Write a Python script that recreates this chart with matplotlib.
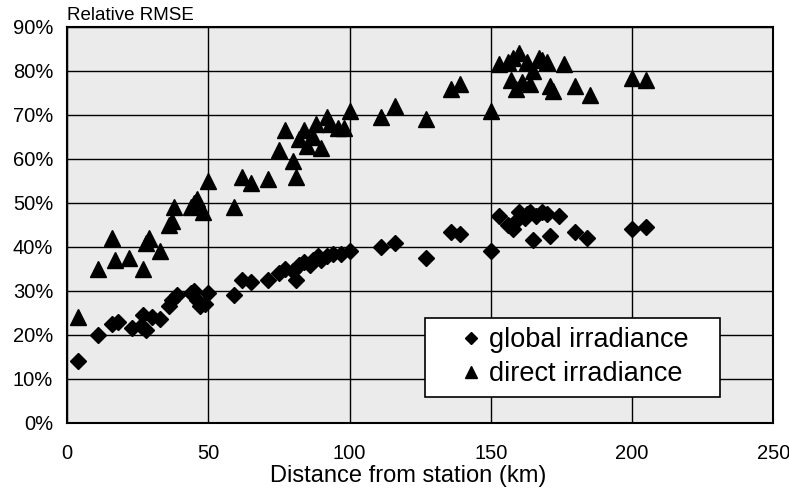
import matplotlib.pyplot as plt
from matplotlib.ticker import FuncFormatter

plt.rcParams['font.family'] = ['Liberation Sans', 'DejaVu Sans']

# global irradiance (diamonds): distance (km), relative RMSE (%)
global_km = [4, 11, 16, 18, 23, 26, 27, 28, 30, 33, 36, 37, 39, 44, 45, 46, 47, 49, 50,
             59, 62, 65, 71, 75, 77, 80, 81, 82, 84, 86, 87, 89, 90, 92, 94, 97, 100,
             111, 116, 127, 136, 139, 150, 153, 156, 158, 159, 160, 162, 163, 164, 165,
             166, 168, 170, 171, 174, 180, 184, 200, 205]
global_rmse = [14, 20, 22.5, 23, 21.5, 22, 24.5, 21, 24, 23.5, 26.5, 28, 29, 29.5, 30, 28, 26.5, 27, 29.5,
               29, 32.5, 32, 32.5, 34, 35, 34.5, 32.5, 36, 36.5, 36, 37, 38, 37, 38, 38.5, 38.5, 39,
               40, 41, 37.5, 43.5, 43, 39, 47, 45, 44, 46, 48, 46.5, 47.5, 48, 41.5,
               47, 48, 47.5, 42.5, 47, 43.5, 42, 44, 44.5]

# direct irradiance (triangles)
direct_km = [4, 11, 16, 17, 22, 27, 28, 29, 33, 36, 37, 38, 44, 45, 46, 48, 50,
             59, 62, 65, 71, 75, 77, 80, 81, 82, 84, 85, 87, 88, 90, 92, 93, 96, 98, 100,
             111, 116, 127, 136, 139, 150, 153, 156, 157, 158, 159, 160, 161, 163, 164,
             165, 167, 168, 170, 171, 172, 176, 180, 185, 200, 205]
direct_rmse = [24, 35, 42, 37, 37.5, 35, 41, 42, 39, 45, 46, 49, 49, 50, 51, 48, 55,
               49, 56, 54.5, 55.5, 62, 66.5, 59.5, 56, 64.5, 66.5, 63, 65, 68, 62.5, 69.5, 68, 67, 67, 71,
               69.5, 72, 69, 76, 77, 71, 81.5, 82, 78, 83, 76, 84, 77.5, 82, 77,
               80, 83, 82.5, 82, 76.5, 75.5, 81.5, 76.5, 74.5, 78.5, 78]

fig = plt.figure(figsize=(7.89, 4.90), dpi=100)
ax = fig.add_axes([0.085, 0.137, 0.895, 0.808])
ax.set_facecolor('#ebebeb')

ax.plot(global_km, global_rmse, 'D', color='black', ms=8.5, mec='black',
        label='global irradiance   ', zorder=3)
ax.plot(direct_km, direct_rmse, '^', color='black', ms=11, mec='black',
        label='direct irradiance   ', zorder=3)

ax.set_xlim(0, 250)
ax.set_ylim(0, 90)
ax.set_xticks(range(0, 251, 50))
ax.set_yticks(range(0, 91, 10))
ax.yaxis.set_major_formatter(FuncFormatter(lambda v, p: f'{int(v)}%'))
ax.grid(True, color='black', lw=1.0)
ax.set_axisbelow(True)
for s in ax.spines.values():
    s.set_linewidth(1.5)
ax.tick_params(length=0, labelsize=14.5)
ax.tick_params(axis='x', pad=15)
ax.tick_params(axis='y', pad=10)

ax.set_xlabel('Distance from station (km)', fontsize=17)
ax.xaxis.set_label_coords(0.483, -0.106)
fig.text(0.085, 0.952, 'Relative RMSE', fontsize=13.5, ha='left', va='bottom')

leg = ax.legend(loc='lower right', bbox_to_anchor=(0.925, 0.066), fontsize=19.5,
                frameon=True, fancybox=False, edgecolor='black', framealpha=1,
                markerscale=0.75, handlelength=2.7, handletextpad=-0.69,
                borderpad=0.35, labelspacing=0.3, borderaxespad=0)
leg.get_frame().set_linewidth(1.2)

fig.savefig('out.png', dpi=100)
